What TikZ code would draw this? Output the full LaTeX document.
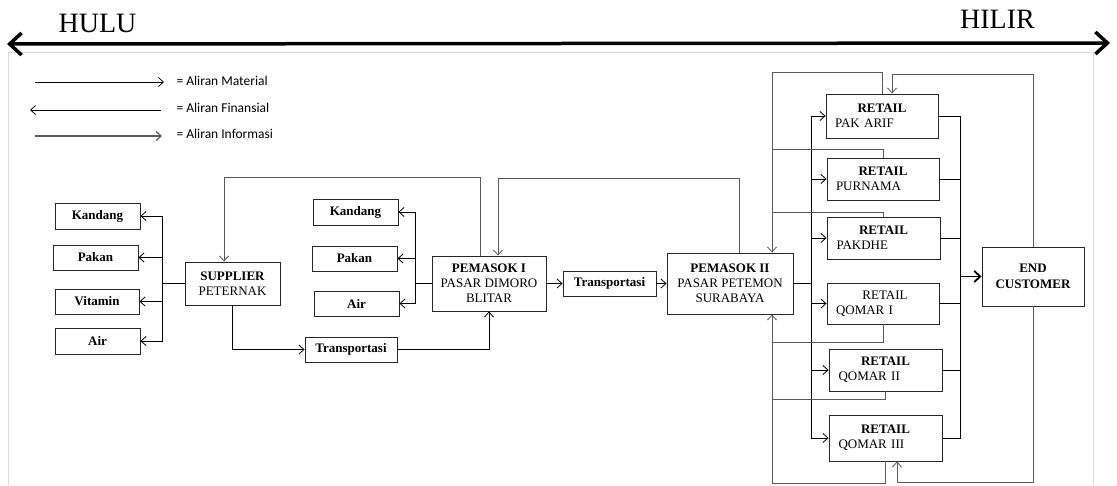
\documentclass[tikz,border=0pt]{standalone}
\usepackage{fontspec}
\setmainfont{Liberation Serif}
\newfontfamily\legfont{Carlito}
\usetikzlibrary{arrows.meta}

\newcommand{\rtl}[2]{\makebox[94pt]{#1}\\#2}

\begin{document}
\begin{tikzpicture}[x=1pt,y=-1pt,
  every node/.style={font=\fontsize{13}{15}\selectfont},
  blok/.style={draw=black!85, line width=0.9pt, align=center, inner sep=2pt},
  kecil/.style={blok, minimum width=85pt, minimum height=25pt},
  retail/.style={draw=black!85, line width=0.9pt, minimum width=112pt, minimum height=43pt,
    text width=94pt, align=left, inner xsep=9pt},
  legenda/.style={anchor=west, font=\legfont\fontsize{13.5}{15}\selectfont},
  mat/.style={line width=0.8pt, black},
  inf/.style={line width=0.8pt, black!65},
  tebal/.style={line width=1.8pt},
  >={Straight Barb[length=5pt,width=9pt]}]
\useasboundingbox (0,0) rectangle (1117,485);
\draw[black!15, line width=1pt] (8,485) |- (1093,52) -- (1093,485);

% hulu - hilir
\node[font=\fontsize{28}{30}\selectfont] (hulu) at (97.5,23) {HULU};
\node[font=\fontsize{28}{30}\selectfont] (hilir) at (997.5,19) {HILIR};
\coordinate (kiri) at (7,44);
\coordinate (kanan) at (1110,43);
\draw[line width=3.5pt, {Straight Barb[length=12pt,width=22pt]}-{Straight Barb[length=12pt,width=22pt]}] (kiri) -- (kanan);

% legenda
\node[legenda] (lgMat) at (173,81) {= Aliran Material};
\node[legenda] (lgFin) at (173,108) {= Aliran Finansial};
\node[legenda] (lgInf) at (173,134) {= Aliran Informasi};
\draw[mat,->] ([xshift=-138pt,yshift=-1pt]lgMat.west) -- ([xshift=-9pt,yshift=-1pt]lgMat.west);
\draw[mat,->] ([xshift=-12pt,yshift=-2pt]lgFin.west) -- ([xshift=-143pt,yshift=-2pt]lgFin.west);
\draw[inf,line width=1.2pt,->] ([xshift=-138pt,yshift=-2pt]lgInf.west) -- ([xshift=-11pt,yshift=-2pt]lgInf.west);

% supplier
\node[kecil,minimum height=26pt] (kand1) at (97.5,216) {\textbf{Kandang}};
\node[kecil] (pakan1) at (95.5,257.5) {\textbf{Pakan}};
\node[kecil,minimum width=84pt] (vit) at (97,301.5) {\textbf{Vitamin}};
\node[kecil,minimum height=26pt] (air1) at (97.5,341) {\textbf{Air}};
\node[blok,minimum width=95pt,minimum height=43pt] (supp) at (232.5,283.5) {\textbf{SUPPLIER}\\PETERNAK};
\node[kecil,minimum width=92pt] (trans1) at (351,349.5) {\textbf{Transportasi}};

% pemasok I
\node[kecil,minimum height=26pt] (kand2) at (355.5,212) {\textbf{Kandang}};
\node[kecil] (pakan2) at (354.5,258.5) {\textbf{Pakan}};
\node[kecil] (air2) at (356.5,303.5) {\textbf{Air}};
\node[blok,minimum width=114pt,minimum height=55pt] (pem1) at (489,283.5) {\textbf{PEMASOK I}\\PASAR DIMORO\\BLITAR};
\node[kecil,minimum width=93pt] (trans2) at (609.5,283.5) {\textbf{Transportasi}};

% pemasok II
\node[blok,minimum width=126pt,minimum height=61pt] (pem2) at (730,283.5) {\textbf{PEMASOK II}\\PASAR PETEMON\\SURABAYA};

% retail
\node[retail,minimum height=44pt] (r1) at (882,116) {\rtl{\textbf{RETAIL}}{PAK ARIF}};
\node[retail,minimum height=42pt] (r2) at (883,179) {\rtl{\textbf{RETAIL}}{PURNAMA}};
\node[retail,minimum width=113pt,minimum height=42pt] (r3) at (883.5,238) {\rtl{\textbf{RETAIL}}{PAKDHE}};
\node[retail,minimum height=41pt] (r4) at (883,303.5) {\rtl{\hspace*{4pt}RETAIL}{QOMAR I}};
\node[retail,minimum width=113pt,minimum height=42pt] (r5) at (885.5,370) {\rtl{\textbf{RETAIL}}{QOMAR II}};
\node[retail,minimum width=113pt,minimum height=46pt] (r6) at (885.5,438) {\rtl{\textbf{RETAIL}}{QOMAR III}};

\node[blok,minimum width=102pt,minimum height=59pt,font=\fontsize{13}{16}\selectfont] (endc) at (1033,276.5) {\textbf{END}\\\textbf{CUSTOMER}};

\coordinate (busA) at (162,283.5);
\coordinate (busB) at (415,283.5);
\coordinate (busC) at (811,283.5);
\coordinate (busD) at (960,276.5);

% aliran material
\draw[mat,line width=1.3pt] (supp.west) -- (busA);
\foreach \n in {kand1,pakan1,vit,air1} \draw[mat,->] (busA) |- (\n.east);
\draw[mat,line width=1.3pt] (pem1.west) -- (busB);
\foreach \n in {kand2,pakan2,air2} \draw[mat,->] (busB) |- (\n.east);
\draw[mat,->] (supp.south) |- (trans1.west);
\draw[mat,->] (trans1.east) -| (pem1.south);
\draw[mat,->] (pem1.east) -- (trans2.west);
\draw[mat,->] (trans2.east) -- (pem2.west);
\draw[mat,tebal] (pem2.east) -- (busC);
\foreach \n in {r1,r2,r3,r4,r5,r6} \draw[mat,->] (busC) |- (\n.west);
\foreach \n in {r1,r2,r3,r4,r5,r6} \draw[mat] (\n.east) -| (busD);
\draw[mat,tebal,-{Straight Barb[length=6pt,width=11pt]}] (busD) -- (endc.west);

% aliran finansial / informasi
\draw[inf,->] ([xshift=-9pt]pem1.north) |- (224,177) -- ([xshift=-8.5pt]supp.north);
\draw[inf,->] ([xshift=9pt]pem2.north) |- (498,178) -- ([xshift=9pt]pem1.north);
\draw[inf,->] (r1.north) |- (772,72) -- ([xshift=42pt]pem2.north);
\draw[inf] (r2.north) |- (772,149);
\draw[inf] (r3.north) |- (772,212);
\draw[inf,->] (r6.south) |- (772,483) -- ([xshift=42pt]pem2.south);
\draw[inf] (r4.south) |- (772,342);
\draw[inf] (r5.south) |- (772,399);
\draw[inf,->] (endc.north) |- (892,74) -- ([xshift=10pt]r1.north);
\draw[inf,->] (endc.south) |- (897,482) -- ([xshift=11.5pt]r6.south);
\end{tikzpicture}
\end{document}
